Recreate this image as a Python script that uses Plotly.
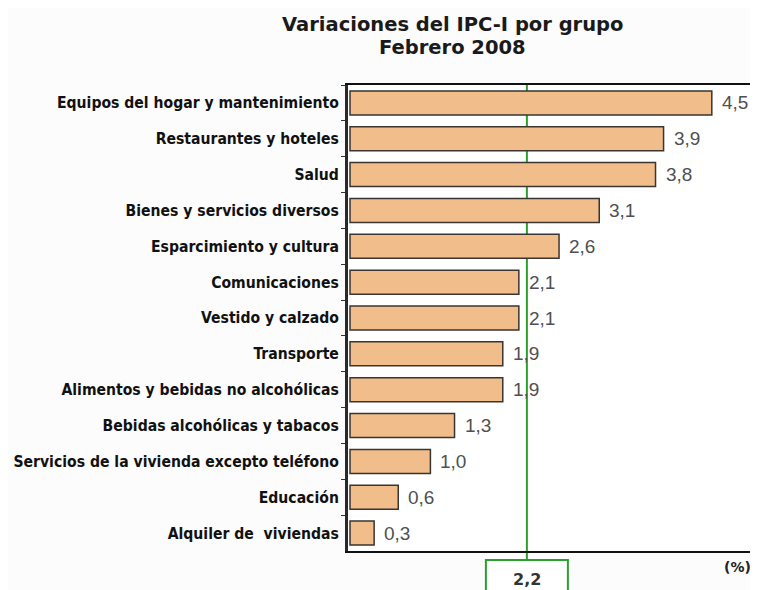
import plotly.graph_objects as go

categories = [
    "Equipos del hogar y mantenimiento",
    "Restaurantes y hoteles",
    "Salud",
    "Bienes y servicios diversos",
    "Esparcimiento y cultura",
    "Comunicaciones",
    "Vestido y calzado",
    "Transporte",
    "Alimentos y bebidas no alcohólicas",
    "Bebidas alcohólicas y tabacos",
    "Servicios de la vivienda excepto teléfono",
    "Educación",
    "Alquiler de  viviendas",
]
values = [4.5, 3.9, 3.8, 3.1, 2.6, 2.1, 2.1, 1.9, 1.9, 1.3, 1.0, 0.6, 0.3]
average = 2.2
title_lines = ["Variaciones del IPC-I por grupo", "Febrero 2008"]
unit_label = "(%)"


def fmt(v):
    return f"{v:.1f}".replace(".", ",")


# page offset (browser body margin) = 8px
PLOT_TOP, PLOT_BOTTOM = 85, 551
PLOT_LEFT, PLOT_RIGHT = 343, 753
PH = PLOT_BOTTOM - PLOT_TOP
PW = PLOT_RIGHT - PLOT_LEFT


def py(Y):
    return (PLOT_BOTTOM - Y) / PH


def px(X):
    return (X - PLOT_LEFT) / PW


fig = go.Figure()
fig.add_trace(go.Bar(
    x=values,
    y=categories,
    orientation="h",
    marker=dict(color="#F0BD8B", line=dict(color="#3a3530", width=1.5)),
    width=0.67,
    hoverinfo="x+y",
))

annotations = []
for c, v in zip(categories, values):
    annotations.append(dict(
        x=v, y=c, xref="x", yref="y", text=fmt(v), showarrow=False,
        xanchor="left", yanchor="middle", xshift=8,
        font=dict(family="Liberation Sans, Arial, sans-serif", size=19, color="#505050"),
    ))

annotations.append(dict(
    x=average, y=py(579), xref="x", yref="paper", text=fmt(average), showarrow=False,
    xanchor="center", yanchor="middle",
    font=dict(family="DejaVu Sans, sans-serif", size=16, color="#333333", weight="bold"),
))
annotations.append(dict(
    x=px(756), y=py(567), xref="paper", yref="paper", text=unit_label, showarrow=False,
    xanchor="right", yanchor="middle",
    font=dict(family="DejaVu Sans, sans-serif", size=14, color="#222222", weight="bold"),
))
annotations.append(dict(
    x=px(450), y=py(24.5), xref="paper", yref="paper", text=title_lines[0],
    showarrow=False, xanchor="center", yanchor="middle",
    font=dict(family="DejaVu Sans, sans-serif", size=19.5, color="#1a1a1a", weight="bold"),
))
annotations.append(dict(
    x=px(450), y=py(47.5), xref="paper", yref="paper", text=title_lines[1],
    showarrow=False, xanchor="center", yanchor="middle",
    font=dict(family="DejaVu Sans, sans-serif", size=19.5, color="#1a1a1a", weight="bold"),
))

shapes = [
    dict(type="line", xref="x", yref="paper", x0=average, x1=average, y0=1.0, y1=py(560),
         line=dict(color="#2ca02c", width=2), layer="below"),
    dict(type="rect", xref="x", yref="paper", x0=average - 0.51, x1=average + 0.51,
         y0=py(560), y1=py(620), line=dict(color="#2ca02c", width=2), fillcolor="#ffffff"),
]

fig.update_layout(
    width=750, height=582,
    margin=dict(l=PLOT_LEFT - 8, r=758 - PLOT_RIGHT, t=PLOT_TOP - 8, b=590 - PLOT_BOTTOM),
    paper_bgcolor="#fcfcfc",
    plot_bgcolor="#ffffff",
    showlegend=False,
    annotations=annotations,
    shapes=shapes,
    xaxis=dict(
        range=[-0.025, 4.975], showgrid=False, zeroline=False, showticklabels=False,
        showline=True, linecolor="#111111", linewidth=2, mirror=True, ticks="",
        fixedrange=True,
    ),
    yaxis=dict(
        autorange="reversed", showgrid=False, zeroline=False,
        showline=True, linecolor="#2a2a2a", linewidth=3, mirror=True,
        ticks="outside", tickson="boundaries", ticklen=4, tickcolor="#333333",
        ticklabelstandoff=3,
        tickfont=dict(family="DejaVu Sans Condensed, DejaVu Sans, sans-serif", size=15.6,
                      color="#111111", weight="bold"),
        fixedrange=True,
    ),
)

fig.write_html("out.html")
